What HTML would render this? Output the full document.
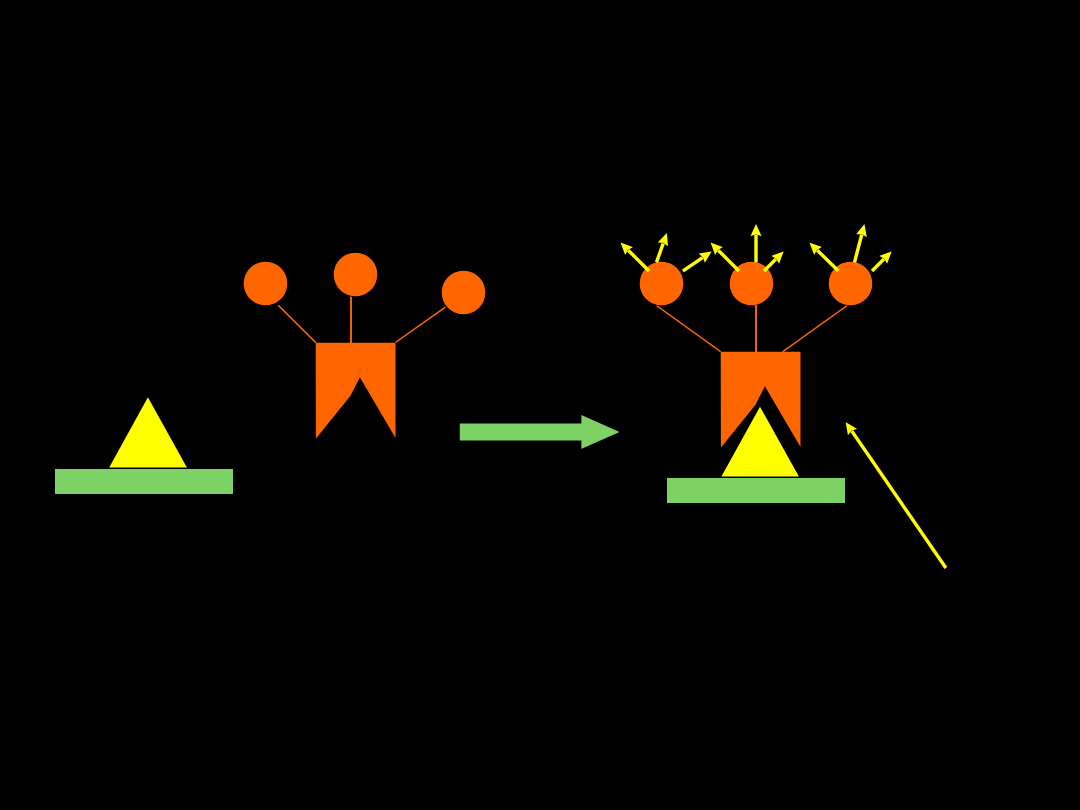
<!DOCTYPE html>
<html>
<head>
<meta charset="utf-8">
<style>
html,body{margin:0;padding:0;background:#000;width:1080px;height:810px;overflow:hidden}
svg{display:block}
</style>
</head>
<body>
<svg width="1080" height="810" viewBox="0 0 1080 810" xmlns="http://www.w3.org/2000/svg">
<defs>
<marker id="h" viewBox="0 0 12 11" refX="1" refY="5.5" markerWidth="12" markerHeight="11" markerUnits="userSpaceOnUse" orient="auto">
<path d="M0,0 L12,5.5 L0,11 L1.5,5.5 z" fill="#ffff00"/>
</marker>
</defs>
<rect width="1080" height="810" fill="#000"/>

<!-- left group -->
<rect x="55" y="469" width="178" height="25" fill="#7dd266"/>
<polygon points="147.9,397.3 109.2,467.5 186.9,467.5" fill="#ffff00"/>
<g stroke="#ff6600" fill="none">
<line x1="278.3" y1="305.3" x2="315.9" y2="342.7" stroke-width="1.5"/>
<line x1="351" y1="296.7" x2="351" y2="343" stroke-width="1.9"/>
<line x1="445.5" y1="307" x2="395.7" y2="342.3" stroke-width="1.5"/>
</g>
<circle cx="265.5" cy="283.5" r="21.8" fill="#ff6600"/>
<circle cx="355.5" cy="274.5" r="21.8" fill="#ff6600"/>
<circle cx="463.5" cy="292.5" r="21.8" fill="#ff6600"/>
<polygon points="315.7,342.7 395.5,342.7 395.5,438 359.9,377.3 350.5,395.7 315.9,438.6" fill="#ff6600"/>

<!-- big arrow -->
<polygon points="459.8,423.5 581.4,423.5 581.4,415 619.6,432 581.4,448.9 581.4,440.5 459.8,440.5" fill="#7dd266"/>

<!-- right group -->
<rect x="667" y="478" width="178" height="25" fill="#7dd266"/>
<polygon points="760,406.7 721.4,476.5 798.9,476.5" fill="#ffff00"/>
<g stroke="#ff6600" fill="none">
<line x1="656.7" y1="305.7" x2="720.7" y2="351.7" stroke-width="1.5"/>
<line x1="756" y1="305" x2="756" y2="352" stroke-width="1.9"/>
<line x1="846.9" y1="305.7" x2="782.7" y2="351.7" stroke-width="1.5"/>
</g>
<circle cx="661.5" cy="283.5" r="21.8" fill="#ff6600"/>
<circle cx="751.5" cy="283.5" r="21.8" fill="#ff6600"/>
<circle cx="850.5" cy="283.5" r="21.8" fill="#ff6600"/>
<polygon points="720.7,351.7 800.5,351.7 800.5,447 764.9,386.3 755.5,404.7 720.9,447.6" fill="#ff6600"/>

<!-- yellow arrows -->
<g stroke="#ffff00" stroke-width="3.4" fill="none">
<line x1="649" y1="271" x2="628.3" y2="250.3" marker-end="url(#h)"/>
<line x1="656.5" y1="262.3" x2="663.2" y2="243.4" marker-end="url(#h)"/>
<line x1="682.9" y1="271" x2="702.6" y2="257.6" marker-end="url(#h)"/>
<line x1="739" y1="271" x2="718.3" y2="250.3" marker-end="url(#h)"/>
<line x1="756" y1="262.3" x2="756" y2="235" marker-end="url(#h)"/>
<line x1="764" y1="271" x2="775.9" y2="259.1" marker-end="url(#h)"/>
<line x1="838.5" y1="271" x2="817.3" y2="250.3" marker-end="url(#h)"/>
<line x1="854.5" y1="262.3" x2="861.7" y2="234.7" marker-end="url(#h)"/>
<line x1="872" y1="271" x2="883.9" y2="259.1" marker-end="url(#h)"/>
<line x1="945.9" y1="568" x2="851.9" y2="431.2" marker-end="url(#h)"/>
</g>
</svg>
</body>
</html>
